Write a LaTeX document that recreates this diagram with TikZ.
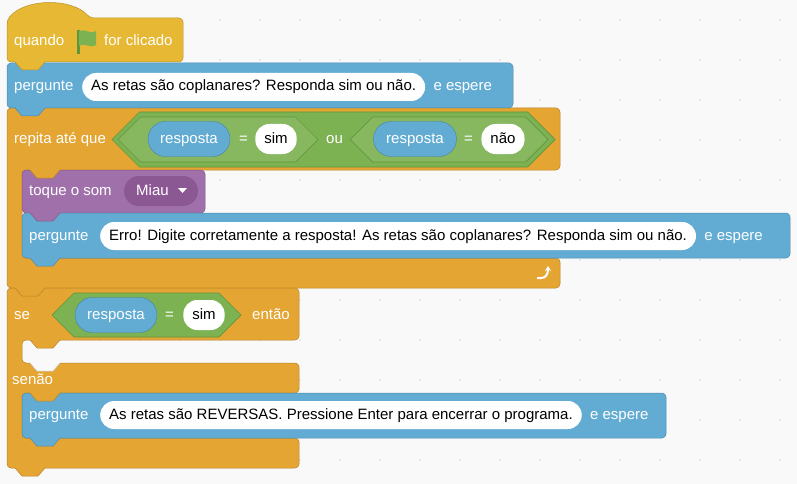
\documentclass[tikz,border=0pt]{standalone}
\usepackage{fontspec}
\setmainfont{Liberation Sans}
\usetikzlibrary{arrows.meta}
\definecolor{bgcol}{RGB}{249,249,249}
\definecolor{dotgray}{RGB}{215,215,215}
\definecolor{hatyellow}{RGB}{230,184,52}
\definecolor{askblue}{RGB}{98,172,212}
\definecolor{ctrlorange}{RGB}{228,165,50}
\definecolor{sndpurple}{RGB}{160,112,170}
\definecolor{sndpurpledk}{RGB}{140,88,148}
\definecolor{opgreen}{RGB}{125,178,82}
\definecolor{opgreendk}{RGB}{98,150,62}
\newcommand{\notchtab}[3]{%
  \fill[#3] (#1+8,#2-1) -- (#1+8,#2) -- (#1+15,#2+8) -- (#1+31,#2+8) -- (#1+38,#2) -- (#1+38,#2-1) -- cycle;
  \draw[#3!80!black, line width=0.5] (#1+8,#2) -- (#1+15,#2+8) -- (#1+31,#2+8) -- (#1+38,#2);}
\newcommand{\boolhex}[5]{%
  \filldraw[fill=#5, draw=opgreendk, line width=0.7]
    (#1,{(#3+#4)/2}) -- ({#1+(#4-#3)/2},#3) -- ({#2-(#4-#3)/2},#3) -- (#2,{(#3+#4)/2})
    -- ({#2-(#4-#3)/2},#4) -- ({#1+(#4-#3)/2},#4) -- cycle;}
\tikzset{
  scratchfont/.style={font=\fontsize{15}{17}\selectfont, text height=11pt, text depth=3pt},
  blocktxt/.style={scratchfont, text=white, anchor=west, inner sep=0pt},
  field/.style={scratchfont, rectangle, rounded corners=14pt, fill=white, text=black,
    minimum height=#1, inner xsep=9pt, inner ysep=0pt},
  reporter/.style={scratchfont, rectangle, rounded corners=17.5pt, fill=askblue,
    draw=askblue!75!black, text=white, minimum height=35pt, inner xsep=10pt, inner ysep=0pt},
  block/.style={fill=#1, draw=#1!80!black, line width=0.5, rounded corners=4pt}
}
\begin{document}
\begin{tikzpicture}[x=1pt, y=-1pt]
  \useasboundingbox (0,0) rectangle (797,484);
  \fill[bgcol] (0,0) rectangle (797,484);
  % Dots
  \foreach \x in {20,60,...,780}
    \foreach \y in {20,60,...,470}
      \fill[dotgray] (\x,\y) circle (0.9);
  % Repeat and if-else bodies
  \draw[block=ctrlorange] (7,108) -- (560,108) -- (560,170) -- (22,170) -- (22,258) -- (560,258)
    -- (560,288) -- (7,288) -- cycle;
  \draw[block=ctrlorange] (7,288) -- (299,288) -- (299,340) -- (22,340) -- (22,363) -- (299,363)
    -- (299,393) -- (22,393) -- (22,438) -- (299,438) -- (299,468) -- (7,468) -- cycle;
  % Hat block
  \draw[block=hatyellow] (7,62) -- (7,20) .. controls (25,-2) and (72,-2) .. (90,18)
    -- (183,18) -- (183,62) -- cycle;
  % Stack blocks
  \draw[block=askblue] (7,63) rectangle (513,108);
  \draw[block=sndpurple] (22,170) rectangle (205,213);
  \draw[block=askblue] (22,213) rectangle (790,258);
  \draw[block=askblue] (22,393) rectangle (666,438);
  % Tabs
  \notchtab{7}{62}{hatyellow}
  \notchtab{7}{108}{askblue}
  \notchtab{22}{170}{ctrlorange}
  \notchtab{22}{213}{sndpurple}
  \notchtab{22}{258}{askblue}
  \notchtab{7}{288}{ctrlorange}
  \notchtab{22}{340}{ctrlorange}
  \notchtab{22}{363}{bgcol}
  \notchtab{22}{393}{ctrlorange}
  \notchtab{22}{438}{askblue}
  \notchtab{7}{468}{ctrlorange}
  % Hat text and flag
  \node[blocktxt] (quando) at (14,42) {quando};
  \fill[opgreendk] (77,30) rectangle (80,54);
  \fill[opgreen] (79,31) .. controls (85,28) and (90,35) .. (96,31) -- (96,45)
    .. controls (90,49) and (85,42) .. (79,46) -- cycle;
  \node[blocktxt] (clicado) at (104,42) {for clicado};
  % First ask
  \node[blocktxt] (ask1) at (14,87) {pergunte};
  \node[field=28pt, anchor=west] (q1) at (82,87) {As retas são coplanares? Responda sim ou não.};
  \node[blocktxt] (wait1) at (q1.east) [xshift=8pt] {e espere};
  % Repeat until
  \node[blocktxt] (rep) at (14,139) {repita até que};
  \boolhex{112}{555}{112}{167}{opgreen}
  \boolhex{118}{318}{117}{162}{opgreen!92!white}
  \boolhex{350}{548}{117}{162}{opgreen!92!white}
  \node[reporter, minimum width=82pt] (resp1) at (189,139) {resposta};
  \node[blocktxt] (eq1) at (239,139) {=};
  \node[field=30pt] (sim1) at (276,139) {sim};
  \node[blocktxt] (ou) at (326,139) {ou};
  \node[reporter, minimum width=83pt] (resp2) at (415,139) {resposta};
  \node[blocktxt] (eq2) at (464,139) {=};
  \node[field=30pt] (nao) at (503,139) {não};
  % Sound
  \node[rectangle, rounded corners=15pt, fill=sndpurpledk, minimum width=74pt, minimum height=30pt] (miau) at (161,191) {};
  \node[blocktxt] (toque) at (29,191) {toque o som};
  \node[blocktxt] (miautxt) at (136,191) {Miau};
  \fill[white] (178,188) -- (187,188) -- (182.5,193) -- cycle;
  % Second ask
  \node[blocktxt] (ask2) at (29,236) {pergunte};
  \node[field=28pt, anchor=west] (q2) at (100,236) {Erro! Digite corretamente a resposta! As retas são coplanares? Responda sim ou não.};
  \node[blocktxt] (wait2) at (q2.east) [xshift=8pt] {e espere};
  % Loop arrow
  \draw[white, line width=2, -{Stealth[length=5pt,width=6pt]}] (537,278) -- (541,278) .. controls (546,278) and (548,274) .. (548,266);
  % If then else
  \node[blocktxt] (se) at (14,315) {se};
  \boolhex{52}{241}{293}{337}{opgreen}
  \node[reporter, minimum width=82pt] (resp3) at (116,315) {resposta};
  \node[blocktxt] (eq3) at (165,315) {=};
  \node[field=30pt] (sim2) at (204,315) {sim};
  \node[blocktxt] (entao) at (252,315) {então};
  \node[blocktxt] (senao) at (12,380) {senão};
  % Third ask
  \node[blocktxt] (ask3) at (29,415) {pergunte};
  \node[field=28pt, anchor=west] (q3) at (100,415) {As retas são REVERSAS. Pressione Enter para encerrar o programa.};
  \node[blocktxt] (wait3) at (q3.east) [xshift=8pt] {e espere};
\end{tikzpicture}
\end{document}
